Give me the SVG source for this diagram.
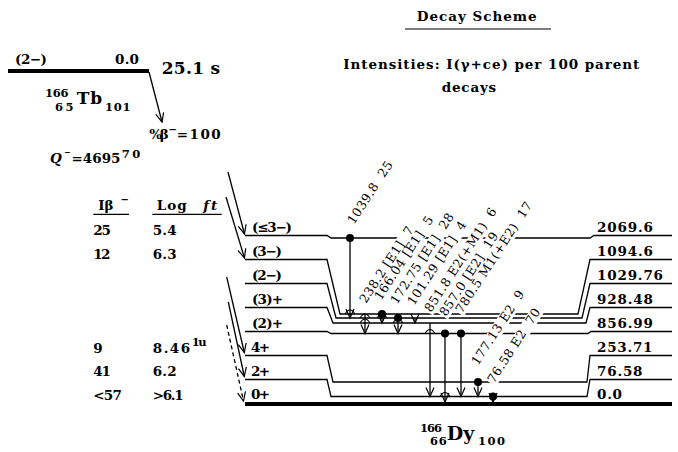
<svg xmlns="http://www.w3.org/2000/svg" width="678" height="452" viewBox="0 0 678 452">
<defs>
<style>
text{font-family:"DejaVu Serif","Liberation Serif",serif;fill:#000}
.h{font-size:13.5px;font-weight:bold}
.s{font-size:11.5px;font-weight:bold}
.g{font-size:12.5px;letter-spacing:0.5px;white-space:pre}
.ln{fill:none;stroke:#000;stroke-width:1.3}
.gm{fill:none;stroke:#000;stroke-width:1.3;marker-end:url(#ah)}
.bf{fill:none;stroke:#000;stroke-width:1.3;marker-end:url(#ah)}
.bg{fill:#fff}
.dot{fill:#000}
.bump{fill:none;stroke:#000;stroke-width:1.2}
</style>
<marker id="ah" viewBox="-11 -5 12 10" refX="0" refY="0" markerWidth="12" markerHeight="10" markerUnits="userSpaceOnUse" orient="auto" overflow="visible">
<path d="M-9,-4 L0,0 L-9,4" fill="none" stroke="#000" stroke-width="1.2"/>
</marker>
</defs>
<rect width="678" height="452" fill="#fff"/>

<g id="title">
<text class="h" x="416.7" y="20.5" textLength="120" lengthAdjust="spacing">Decay Scheme</text>
<line x1="405" y1="29" x2="551" y2="29" stroke="#555" stroke-width="1.5"/>
<text class="h" x="343.3" y="69" textLength="296" lengthAdjust="spacing">Intensities: I(γ+ce) per 100 parent</text>
<text class="h" x="441.7" y="92" textLength="54.5" lengthAdjust="spacing">decays</text>
</g>

<g id="parent">
<line x1="8" y1="71" x2="149" y2="71" stroke="#000" stroke-width="4"/>
<text class="h" x="15" y="63.5" textLength="32" lengthAdjust="spacing">(2−)</text>
<text class="h" x="115" y="64" textLength="24" lengthAdjust="spacing">0.0</text>
<text x="161.7" y="74" font-size="17" font-weight="bold" textLength="58.5" lengthAdjust="spacing">25.1 s</text>
<text class="s" x="45" y="96.7" textLength="23.5" lengthAdjust="spacing">166</text>
<text class="s" x="55" y="111" textLength="18.5" lengthAdjust="spacing">65</text>
<text x="76.7" y="104.3" font-size="17" font-weight="bold" textLength="25.5" lengthAdjust="spacing">Tb</text>
<text class="s" x="105" y="111" textLength="25.5" lengthAdjust="spacing">101</text>
<text class="h" x="149.3" y="139.3" textLength="19.5" lengthAdjust="spacing">%β</text>
<text x="168.5" y="133" font-size="10" font-weight="bold">−</text>
<text class="h" x="176.7" y="139.3" textLength="44" lengthAdjust="spacing">=100</text>
<text class="h" x="50" y="163.3" font-style="italic">Q</text>
<text x="64" y="155" font-size="8" font-weight="bold">−</text>
<text class="h" x="71.5" y="163.3" textLength="49" lengthAdjust="spacing">=4695</text>
<text class="s" x="121.7" y="157.5" textLength="18.5" lengthAdjust="spacing">70</text>
</g>

<g id="columns">
<text class="h" x="98.3" y="210">Iβ</text>
<text x="120.5" y="203" font-size="10" font-weight="bold">−</text>
<line x1="93.3" y1="214.3" x2="129" y2="214.3" stroke="#000" stroke-width="1.3"/>
<text class="h" x="156.7" y="210" textLength="30" lengthAdjust="spacing">Log</text>
<text class="h" x="203.3" y="210" font-style="italic" textLength="14" lengthAdjust="spacing">ft</text>
<line x1="152.3" y1="214.3" x2="221.7" y2="214.3" stroke="#000" stroke-width="1.3"/>
<text class="h" x="93.3" y="235" textLength="17.5" lengthAdjust="spacing">25</text>
<text class="h" x="152.7" y="235" textLength="24" lengthAdjust="spacing">5.4</text>
<text class="h" x="93.3" y="258.5" textLength="17" lengthAdjust="spacing">12</text>
<text class="h" x="152.7" y="258.5" textLength="24" lengthAdjust="spacing">6.3</text>
<text class="h" x="93.3" y="352.5">9</text>
<text class="h" x="152.7" y="352.5" textLength="37.5" lengthAdjust="spacing">8.46</text>
<text class="s" x="191.7" y="345.5" textLength="15" lengthAdjust="spacing">1u</text>
<text class="h" x="93.3" y="375.5" textLength="17.5" lengthAdjust="spacing">41</text>
<text class="h" x="152.7" y="375.5" textLength="24" lengthAdjust="spacing">6.2</text>
<text class="h" x="93.3" y="400" textLength="28.5" lengthAdjust="spacing">&lt;57</text>
<text class="h" x="152.7" y="400" textLength="31" lengthAdjust="spacing">&gt;6.1</text>
</g>

<g id="level-2069.6">
<path class="ln" d="M245,235.5 H327 L331,238 H590 L594,235.5 H672"/>
<text class="h" x="252" y="232" textLength="40" lengthAdjust="spacing">(≤3−)</text>
<text class="h" x="597" y="231.7" textLength="56" lengthAdjust="spacing">2069.6</text>
</g>
<g id="level-1094.6">
<path class="ln" d="M245,259.5 H327 L340,314 H578 L590,259.5 H672"/>
<text class="h" x="252" y="256" textLength="30" lengthAdjust="spacing">(3−)</text>
<text class="h" x="597" y="255.7" textLength="56" lengthAdjust="spacing">1094.6</text>
</g>
<g id="level-1029.76">
<path class="ln" d="M245,283.5 H327 L336,318 H582 L590,283.5 H672"/>
<text class="h" x="252" y="280" textLength="30" lengthAdjust="spacing">(2−)</text>
<text class="h" x="597" y="279.5" textLength="66" lengthAdjust="spacing">1029.76</text>
</g>
<g id="level-928.48">
<path class="ln" d="M245,307.5 H327 L333,323 H586 L590,307.5 H672"/>
<text class="h" x="252" y="304" textLength="31" lengthAdjust="spacing">(3)+</text>
<text class="h" x="597" y="303.5" textLength="56" lengthAdjust="spacing">928.48</text>
</g>
<g id="level-856.99">
<path class="ln" d="M245,331.5 H327 L331,333.5 H588 L591,331.5 H672"/>
<text class="h" x="252" y="328" textLength="31" lengthAdjust="spacing">(2)+</text>
<text class="h" x="597" y="327.5" textLength="56" lengthAdjust="spacing">856.99</text>
</g>
<g id="level-253.71">
<path class="ln" d="M245,355.5 H327 L333,382 H587 L590,355.5 H672"/>
<text class="h" x="251" y="352" textLength="19" lengthAdjust="spacing">4+</text>
<text class="h" x="597" y="351.5" textLength="55.5" lengthAdjust="spacing">253.71</text>
</g>
<g id="level-76.58">
<path class="ln" d="M245,379.5 H327 L331,396.5 H587 L590,379.5 H672"/>
<text class="h" x="251" y="376" textLength="19" lengthAdjust="spacing">2+</text>
<text class="h" x="597" y="375.5" textLength="45.5" lengthAdjust="spacing">76.58</text>
</g>
<g id="level-0.0">
<line x1="245" y1="404" x2="672" y2="404" stroke="#000" stroke-width="4"/>
<text class="h" x="251" y="399" textLength="19" lengthAdjust="spacing">0+</text>
<text class="h" x="597" y="398.5" textLength="25" lengthAdjust="spacing">0.0</text>
</g>

<g id="daughter">
<text class="s" x="420" y="431.7" textLength="22" lengthAdjust="spacing">166</text>
<text class="s" x="430" y="445" textLength="16.7" lengthAdjust="spacing">66</text>
<text x="446.7" y="440" font-size="19" font-weight="bold">Dy</text>
<text class="s" x="478" y="445" textLength="27" lengthAdjust="spacing">100</text>
</g>

<g id="connectors">
<path class="bf" d="M149,72 L162,122"/>
<path class="bf" d="M228,172 L244.5,234"/>
<path class="bf" d="M226,197 L244.5,258"/>
<path class="bf" d="M226.7,277 L244.3,352.5"/>
<path class="bf" d="M228.3,302 L244.3,376.5"/>
<path class="bf" stroke-dasharray="4,3" d="M226.7,325 L243.5,401"/>

<g class="bg">
<rect transform="translate(354,225) rotate(-57)" x="-1" y="-10" width="74.6" height="13"/>
<rect transform="translate(366,304) rotate(-57)" x="-1" y="-10" width="91" height="13"/>
<rect transform="translate(381,301) rotate(-57)" x="-1" y="-10" width="99.4" height="13"/>
<rect transform="translate(397,305) rotate(-57)" x="-1" y="-10" width="108" height="13"/>
<rect transform="translate(414,306) rotate(-57)" x="-1" y="-10" width="99.4" height="13"/>
<rect transform="translate(431,313) rotate(-57)" x="-1" y="-10" width="123.3" height="13"/>
<rect transform="translate(446,317) rotate(-57)" x="-1" y="-10" width="99.4" height="13"/>
<rect transform="translate(462,314) rotate(-57)" x="-1" y="-10" width="131.8" height="13"/>
<rect transform="translate(478,366) rotate(-57)" x="-1" y="-10" width="88.7" height="13"/>
<rect transform="translate(494,384) rotate(-57)" x="-1" y="-10" width="88.7" height="13"/>
</g>

<path class="gm" d="M350,238 V318"/>
<path class="gm" d="M365,314 V333.5"/>
<path class="gm" d="M382,314 V323"/>
<path class="gm" d="M398,318 V333.5"/>
<path class="gm" d="M415,318 V323"/>
<path class="gm" d="M430,323 V396.5"/>
<path class="gm" d="M445,333.5 V402"/>
<path class="gm" d="M461,333.5 V396.5"/>
<path class="gm" d="M478,382 V396.5"/>
<path class="gm" d="M493,396.5 V402"/>

<path class="bump" d="M345,314 Q350,306 355,314 M360,318 Q365,310 370,318 M360,323 Q365,315 370,323 M377,318 Q382,310 387,318 M393,323 Q398,315 403,323 M425,333.5 Q430,325.5 435,333.5 M440,396.5 Q445,388.5 450,396.5"/>

<circle class="dot" cx="350" cy="238" r="4"/>
<circle class="dot" cx="382" cy="314" r="4"/>
<circle class="dot" cx="398" cy="318" r="4"/>
<circle class="dot" cx="445" cy="333.5" r="4"/>
<circle class="dot" cx="461" cy="333.5" r="4"/>
<circle class="dot" cx="478" cy="382" r="4"/>
<circle class="dot" cx="493" cy="396.5" r="4"/>

<text class="g" transform="translate(354,225) rotate(-57)">1039.8  25</text>
<text class="g" transform="translate(366,304) rotate(-57)">238.2 [E1]  7</text>
<text class="g" transform="translate(381,301) rotate(-57)">166.04 [E1]  5</text>
<text class="g" transform="translate(397,305) rotate(-57)">172.75 [E1]  28</text>
<text class="g" transform="translate(414,306) rotate(-57)">101.29 [E1]  4</text>
<text class="g" transform="translate(431,313) rotate(-57)">851.8 E2(+M1)  6</text>
<text class="g" transform="translate(446,317) rotate(-57)">857.0 [E2]  19</text>
<text class="g" transform="translate(462,314) rotate(-57)">780.5 M1(+E2)  17</text>
<text class="g" transform="translate(478,366) rotate(-57)">177.13 E2  9</text>
<text class="g" transform="translate(494,384) rotate(-57)">76.58 E2  70</text>
</g>
</svg>
